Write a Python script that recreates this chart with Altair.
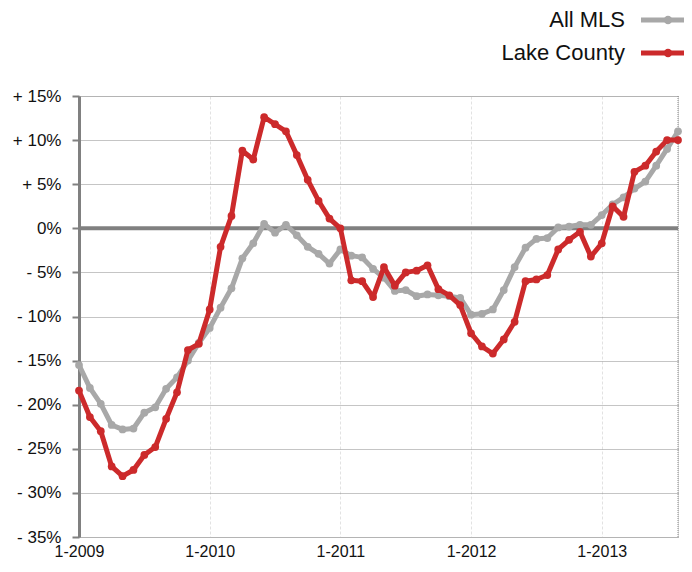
import altair as alt
import pandas as pd

# month index 0 = Jan 2009 ... 55 = Aug 2013
months = list(range(56))
series_names = ["All MLS", "Lake County"]
series_colors = ["#A8A8A8", "#CC2A2B"]

all_mls = [-15.5, -18.1, -19.9, -22.3, -22.8, -22.7, -20.9, -20.3, -18.2, -16.9,
           -15.0, -13.0, -11.3, -9.0, -6.8, -3.4, -1.7, 0.5, -0.5, 0.4,
           -0.8, -2.1, -2.9, -4.0, -2.4, -3.1, -3.3, -4.6, -5.6, -7.1,
           -7.0, -7.7, -7.5, -7.6, -7.7, -7.9, -9.8, -9.7, -9.2, -7.0,
           -4.4, -2.2, -1.2, -1.1, 0.1, 0.2, 0.4, 0.4, 1.5, 2.7,
           3.5, 4.5, 5.3, 7.1, 9.0, 11.0]
lake_county = [-18.4, -21.4, -23.0, -27.0, -28.1, -27.4, -25.7, -24.8, -21.6, -18.6,
               -13.8, -13.1, -9.2, -2.1, 1.4, 8.8, 7.8, 12.6, 11.8, 11.0,
               8.3, 5.5, 3.1, 1.1, 0.0, -5.9, -6.0, -7.8, -4.4, -6.5,
               -5.0, -4.8, -4.2, -6.9, -7.6, -8.7, -11.9, -13.4, -14.2, -12.6,
               -10.6, -6.0, -5.8, -5.3, -2.4, -1.3, -0.4, -3.2, -1.7, 2.5,
               1.3, 6.4, 7.1, 8.7, 10.0, 10.0]
year_ticks = [0, 12, 24, 36, 48]
y_ticks = list(range(-35, 20, 5))

FONT = "Liberation Sans"
AXIS_GRAY = "#808080"

x_scale = alt.Scale(domain=[0, 55], nice=False, zero=False)
y_scale = alt.Scale(domain=[-35, 15], nice=False)

x_enc = alt.X("month:Q", scale=x_scale, axis=alt.Axis(
    values=year_ticks, labelExpr="'1-' + (2009 + datum.value / 12)",
    title=None, domain=False, ticks=False, labelFontSize=16, labelFont=FONT,
    labelColor="#111", labelPadding=6, grid=True, gridColor="#e2e2e2",
    gridDash=[3, 2], gridWidth=1, labelFlush=False))
y_enc = alt.Y("value:Q", scale=y_scale, axis=alt.Axis(
    values=y_ticks,
    labelExpr="datum.value > 0 ? '+ ' + datum.value + '%' : (datum.value < 0 ? '- ' + abs(datum.value) + '%' : '0%')",
    title=None, domain=True, domainColor=AXIS_GRAY, domainWidth=3,
    ticks=True, tickColor=AXIS_GRAY, tickSize=7, tickWidth=2,
    labelFontSize=17, labelFont=FONT, labelColor="#111", labelPadding=11,
    grid=True, gridColor="#8a8a8a", gridDash=[1, 1], gridWidth=1))

layers = []

# zero line
layers.append(alt.Chart(pd.DataFrame({"value": [0]})).mark_rule(
    color=AXIS_GRAY, strokeWidth=4).encode(y=alt.Y("value:Q", scale=y_scale)))
# right border
layers.append(alt.Chart(pd.DataFrame({"month": [55]})).mark_rule(
    color="#8a8a8a", strokeDash=[1, 1], strokeWidth=1).encode(
    x=alt.X("month:Q", scale=x_scale)))

for name, vals, col in zip(series_names, [all_mls, lake_county], series_colors):
    d = pd.DataFrame({"month": months, "value": vals})
    base = alt.Chart(d)
    layers.append(base.mark_line(color=col, strokeWidth=5, strokeJoin="round").encode(x=x_enc, y=y_enc))
    layers.append(base.mark_circle(color=col, size=60, opacity=1).encode(x=x_enc, y=y_enc))

# manual legend (labels left of symbols)
legend_y = [-76, -43]
for name, col, ly in zip(series_names, series_colors, legend_y):
    d = pd.DataFrame({"series": [name]})
    layers.append(alt.Chart(d).mark_text(align="right", baseline="middle",
                                         fontSize=22, font=FONT, color="#111").encode(
        x=alt.value(546), y=alt.value(ly), text="series:N"))
    layers.append(alt.Chart(d).mark_rule(color=col, strokeWidth=5).encode(
        x=alt.value(562), x2=alt.value(606), y=alt.value(ly)))
    layers.append(alt.Chart(d).mark_circle(color=col, size=70, opacity=1).encode(
        x=alt.value(589), y=alt.value(ly)))

chart = alt.layer(*layers).properties(
    width=599, height=441,
    autosize=alt.AutoSizeParams(type="none"),
    padding={"left": 71, "top": 88, "right": 6, "bottom": 27},
).configure_view(stroke=None).configure(background="white")

chart.save("out.html", embed_options={"renderer": "svg", "actions": False})
